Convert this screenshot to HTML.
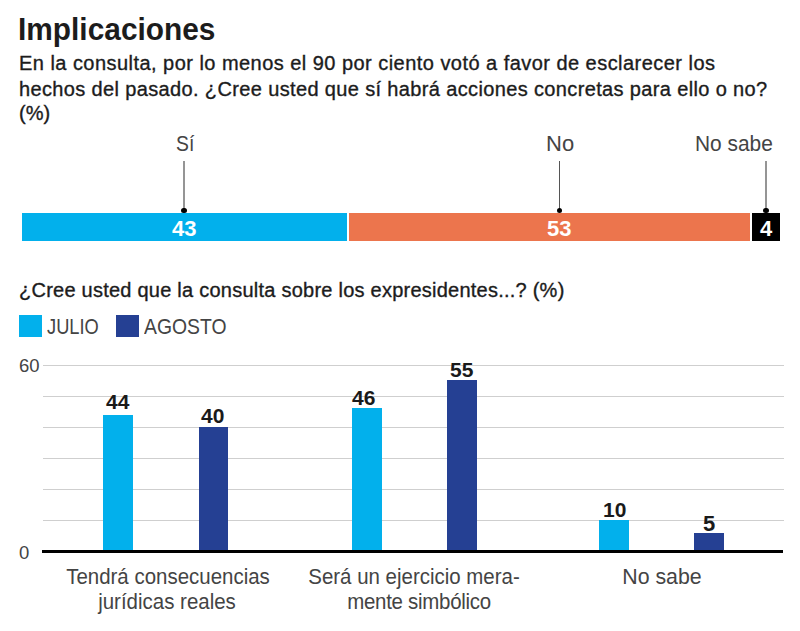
<!DOCTYPE html>
<html><head><meta charset="utf-8">
<style>
html,body{margin:0;padding:0;background:#fff;}
body{width:800px;height:631px;position:relative;overflow:hidden;font-family:"Liberation Sans",sans-serif;color:#1a1a1a;}
.a{position:absolute;white-space:nowrap;line-height:1;}
.title{left:18px;top:13px;font-size:32px;font-weight:bold;letter-spacing:0px;transform:scaleX(0.933);transform-origin:0 0;color:#1c1c1c;}
.sub{left:19px;font-size:20px;color:#1c1c1c;-webkit-text-stroke:0.35px #1c1c1c;}
.lab{font-size:22px;color:#444;}
.bar{position:absolute;}
.cy{background:#02b0ec;}
.nv{background:#254093;}
.or{background:#ec754d;}
.bk{background:#000;}
.vline{position:absolute;width:1.2px;background:#4d4d4d;}
.dot{position:absolute;width:5.4px;height:5.4px;border-radius:50%;background:#000;}
.num{font-size:22px;font-weight:bold;color:#fff;}
.grid{position:absolute;left:43px;width:741px;height:1px;background:#cfcfcf;}
.bnum{font-size:21px;font-weight:bold;color:#1a1a1a;}
.ax{font-size:18.5px;color:#444;}
.cat{font-size:22px;color:#444;text-align:center;line-height:25px;width:300px;transform:scaleX(0.93);transform-origin:50% 0;}
</style></head><body>
<div class="a title">Implicaciones</div>
<div class="a sub" style="top:53px;letter-spacing:0.46px">En la consulta, por lo menos el 90 por ciento votó a favor de esclarecer los</div>
<div class="a sub" style="top:79px;letter-spacing:0.36px">hechos del pasado. ¿Cree usted que sí habrá acciones concretas para ello o no?</div>
<div class="a sub" style="top:103px;">(%)</div>

<!-- stacked bar -->
<div class="a lab" style="left:176px;top:133px;transform:scaleX(0.88);transform-origin:0 0">Sí</div>
<div class="a lab" style="left:546px;top:133px;">No</div>
<div class="a lab" style="left:695px;top:133px;transform:scaleX(0.95);transform-origin:0 0">No sabe</div>
<div class="vline" style="left:183px;top:161px;height:48px;width:2px;background:#959595"></div>
<div class="vline" style="left:559px;top:161px;height:48px;width:1px;background:#555"></div>
<div class="vline" style="left:765px;top:161px;height:48px;width:2px;background:#959595"></div>

<div class="bar cy" style="left:22px;top:213px;width:325px;height:28px"></div>
<div class="bar or" style="left:349px;top:213px;width:401px;height:28px"></div>
<div class="bar bk" style="left:752px;top:213px;width:28px;height:28px"></div>
<div class="dot" style="left:181.3px;top:207.6px"></div>
<div class="dot" style="left:556.8px;top:207.6px"></div>
<div class="dot" style="left:763.3px;top:207.6px"></div>
<div class="a num" style="left:172px;top:218px">43</div>
<div class="a num" style="left:547px;top:218px">53</div>
<div class="a num" style="left:760px;top:218px">4</div>

<!-- question 2 -->
<div class="a sub" style="left:19px;top:280px;letter-spacing:0.24px">¿Cree usted que la consulta sobre los expresidentes...? (%)</div>
<div class="bar cy" style="left:19px;top:315px;width:23px;height:22px"></div>
<div class="a lab" style="left:47px;top:316px;transform:scaleX(0.83);transform-origin:0 0">JULIO</div>
<div class="bar nv" style="left:116px;top:315px;width:23px;height:22px"></div>
<div class="a lab" style="left:144px;top:316px;transform:scaleX(0.88);transform-origin:0 0">AGOSTO</div>

<div class="a ax" style="left:19px;top:357px">60</div>
<div class="a ax" style="left:19px;top:544px">0</div>
<div class="grid" style="top:365px"></div>
<div class="grid" style="top:396px"></div>
<div class="grid" style="top:427px"></div>
<div class="grid" style="top:458px"></div>
<div class="grid" style="top:489px"></div>
<div class="grid" style="top:520px"></div>

<div class="bar cy" style="left:103px;top:415px;width:30px;height:136px"></div>
<div class="bar nv" style="left:199px;top:427px;width:29px;height:124px"></div>
<div class="bar cy" style="left:352px;top:408px;width:30px;height:143px"></div>
<div class="bar nv" style="left:447px;top:380px;width:30px;height:171px"></div>
<div class="bar cy" style="left:599px;top:520px;width:30px;height:31px"></div>
<div class="bar nv" style="left:694px;top:533px;width:30px;height:18px"></div>
<div class="bar" style="left:42px;top:550px;width:741px;height:3px;background:#000"></div>

<div class="a bnum" style="left:106px;top:391px">44</div>
<div class="a bnum" style="left:201px;top:405px">40</div>
<div class="a bnum" style="left:352px;top:387px">46</div>
<div class="a bnum" style="left:450px;top:359px">55</div>
<div class="a bnum" style="left:603px;top:499px">10</div>
<div class="a bnum" style="left:703px;top:513px;font-size:22px">5</div>

<div class="a cat" style="left:18px;top:564px">Tendrá consecuencias</div>
<div class="a cat" style="left:17px;top:589px">jurídicas reales</div>
<div class="a cat" style="left:264px;top:564px">Será un ejercicio mera-</div>
<div class="a cat" style="left:269px;top:589px;letter-spacing:-0.3px">mente simbólico</div>
<div class="a cat" style="left:512px;top:564px;transform:scaleX(0.97)">No sabe</div>
</body></html>
